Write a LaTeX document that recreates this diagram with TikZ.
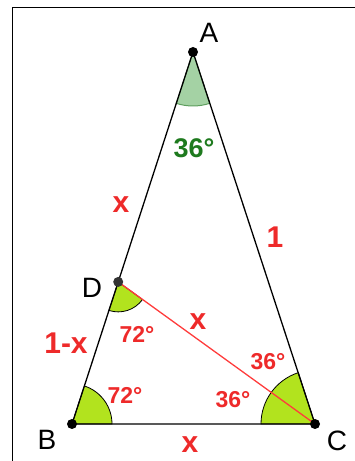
\documentclass[tikz,border=0pt]{standalone}
\usepackage{fontspec}
\setmainfont{Liberation Sans}
\usetikzlibrary{calc}
\definecolor{wedge}{HTML}{B2E31E}
\definecolor{wedgeA}{HTML}{A4D2A4}
\definecolor{wedgeAline}{HTML}{5E9E5E}
\definecolor{lblred}{HTML}{EE2A2A}
\definecolor{lblgreen}{HTML}{1E7A1E}
\definecolor{segred}{HTML}{FF3C3C}
\begin{document}
\begin{tikzpicture}[x=1pt,y=1pt,line width=1.3pt,
  dot/.style={circle,fill=black,inner sep=0pt,minimum size=10pt},
  vlbl/.style={font=\fontsize{28}{30}\selectfont},
  side/.style={text=lblred,font=\fontsize{30}{32}\selectfont\bfseries},
  ang/.style={text=lblred,font=\fontsize{23}{25}\selectfont\bfseries}]
\path[use as bounding box] (0,0) rectangle (355,461);
\draw[line width=1.8pt] (12.5,0) -- (12.5,453.5) -- (355,453.5);
\coordinate (A) at (193,409); \coordinate (B) at (72,37); \coordinate (C) at (315,37);
\coordinate (D) at ($(B)!0.382!(A)$);
% angle marks
\filldraw[fill=wedgeA,draw=wedgeAline,line width=1pt] (A) -- ++(252:54) arc[start angle=252,end angle=288,radius=54] -- cycle;
\filldraw[fill=wedge,line width=0.8pt] (B) -- ++(0:40) arc[start angle=0,end angle=72,radius=40] -- cycle;
\filldraw[fill=wedge,line width=0.8pt] (D) -- ++(252:30) arc[start angle=252,end angle=324,radius=30] -- cycle;
\filldraw[fill=wedge,line width=0.8pt] (C) -- ++(108:54) arc[start angle=108,end angle=180,radius=54] -- cycle;
% sides
\draw (A) -- (B) -- (C) -- cycle;
\draw[segred] (D) -- (C);
\foreach \v in {A,B,C} {\node[dot] (\v dot) at (\v) {};}
\node[dot,fill=black!80] (Ddot) at (D) {};
\node[vlbl] (Alab) at (209,428) {A};
\node[vlbl] (Blab) at (47,21) {B};
\node[vlbl] (Clab) at (337,20) {C};
\node[vlbl] (Dlab) at (92,173) {D};
\node[side] (xAD) at (121,256) {x};
\node[side] (oneAC) at (275,224) {1};
\node[side] (xDB) at (66,118) {1-x};
\node[side] (xDC) at (198,139) {x};
\node[side] (xBC) at (190,16) {x};
\node[ang] (angD) at (137,127) {72°};
\node[ang] (angB) at (125,66) {72°};
\node[ang] (angCa) at (268,99) {36°};
\node[ang] (angCb) at (233,61) {36°};
\node[text=lblgreen,font=\fontsize{27}{29}\selectfont\bfseries] (angA) at (194,313) {36°};
\end{tikzpicture}
\end{document}
